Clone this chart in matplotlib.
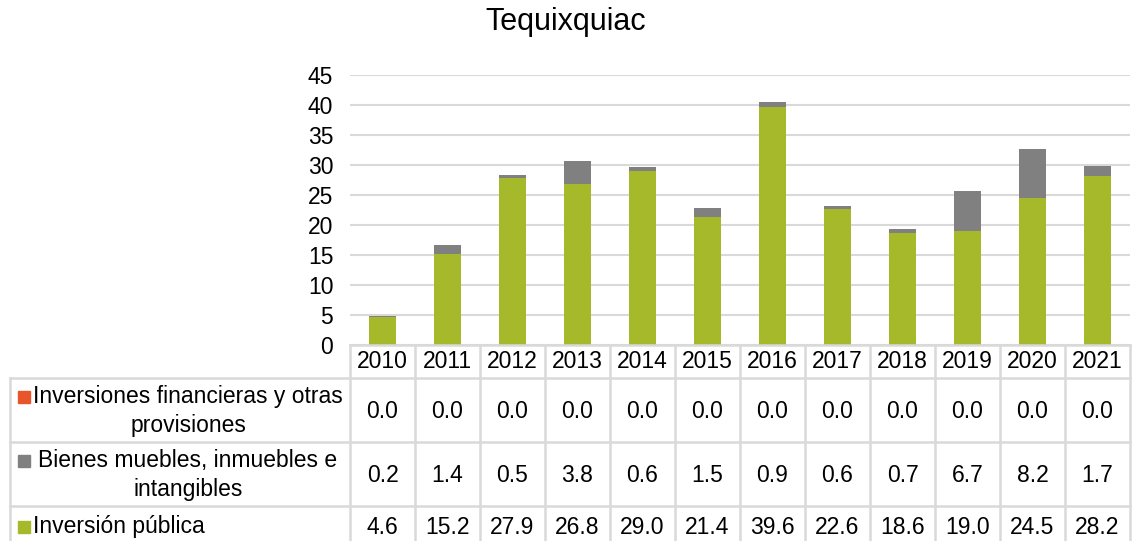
import matplotlib
matplotlib.use("Agg")
import matplotlib.pyplot as plt
from matplotlib.patches import Rectangle

plt.rcParams['font.family'] = ['Liberation Sans', 'DejaVu Sans']

years = ["2010", "2011", "2012", "2013", "2014", "2015", "2016", "2017", "2018", "2019", "2020", "2021"]
inv_fin = [0.0] * 12
bienes = [0.2, 1.4, 0.5, 3.8, 0.6, 1.5, 0.9, 0.6, 0.7, 6.7, 8.2, 1.7]
inv_pub = [4.6, 15.2, 27.9, 26.8, 29.0, 21.4, 39.6, 22.6, 18.6, 19.0, 24.5, 28.2]
series_names = ["Inversiones financieras y otras\nprovisiones",
                "Bienes muebles, inmuebles e\nintangibles",
                "Inversión pública"]
yticks = [0, 5, 10, 15, 20, 25, 30, 35, 40, 45]

c_green = "#a6b92a"
c_grey = "#808080"
c_orange = "#e8552a"
c_line = "#d9d9d9"

W, H = 1132, 541
fig = plt.figure(figsize=(W / 100, H / 100), dpi=100)

# plot area in pixels
L, R, T, B = 350, 1130, 75, 345
ax = fig.add_axes([L / W, 1 - B / H, (R - L) / W, (B - T) / H])
x = list(range(len(years)))
ax.bar(x, inv_pub, width=0.41, color=c_green, zorder=3)
ax.bar(x, bienes, width=0.41, bottom=inv_pub, color=c_grey, zorder=3)
tops = [a + b for a, b in zip(inv_pub, bienes)]
ax.bar(x, inv_fin, width=0.41, bottom=tops, color=c_orange, zorder=3)
ax.set_xlim(-0.5, len(years) - 0.5)
ax.set_ylim(0, 45)
ax.set_yticks(yticks)
fs = 16.5
ax.set_yticklabels([str(v) for v in yticks], fontsize=fs)
ax.set_xticks([])
for s in ax.spines.values():
    s.set_visible(False)
ax.tick_params(axis='y', length=0, pad=12)
ax.yaxis.grid(True, color=c_line, linewidth=1.5, zorder=0)
ax.set_axisbelow(True)

# overlay in pixel coordinates for the data table
ov = fig.add_axes([0, 0, 1, 1], zorder=5)
ov.set_xlim(0, W)
ov.set_ylim(H, 0)
ov.axis('off')
ov.patch.set_alpha(0)

n = len(years)
colw = (R - L) / n
TL = 10
rows_y = [345, 378, 442, 506]
lw = 1.8
# horizontal lines
ov.plot([L, R], [rows_y[0], rows_y[0]], color=c_line, lw=lw)
for yy in rows_y[1:]:
    ov.plot([TL, R], [yy, yy], color=c_line, lw=lw)
# vertical lines
for k in range(n + 1):
    ov.plot([L + k * colw, L + k * colw], [rows_y[0], H], color=c_line, lw=lw)
ov.plot([TL, TL], [rows_y[1], H], color=c_line, lw=lw)

# year labels
for i, yr in enumerate(years):
    ov.text(L + (i + 0.5) * colw, 362, yr, ha='center', va='center', fontsize=fs)

row_centers = [411, 475, 527]
row_data = [inv_fin, bienes, inv_pub]
row_colors = [c_orange, c_grey, c_green]
for r in range(3):
    for i in range(n):
        ov.text(L + (i + 0.5) * colw, row_centers[r], f"{row_data[r][i]:.1f}",
                ha='center', va='center', fontsize=fs)

# row labels with legend keys
for r in range(2):
    ov.text(188, row_centers[r], series_names[r], ha='center', va='center',
            fontsize=fs, multialignment='center', linespacing=1.28)
    ov.add_patch(Rectangle((18, row_centers[r] - 20), 12, 12, color=row_colors[r]))
ov.text(33, row_centers[2], series_names[2], ha='left', va='center', fontsize=fs)
ov.add_patch(Rectangle((18, row_centers[2] - 6), 12, 12, color=row_colors[2]))

fig.text(0.5, 1 - 22 / H, "Tequixquiac", ha='center', va='center', fontsize=22)

fig.savefig("out.png", dpi=100)
